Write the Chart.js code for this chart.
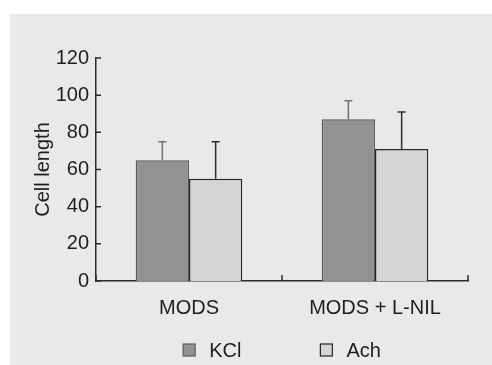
<!DOCTYPE html>
<html>
<head>
<meta charset="utf-8">
<script src="https://cdn.jsdelivr.net/npm/chart.js@4.4.0/dist/chart.umd.min.js"></script>
<style>
  html, body { margin: 0; padding: 0; background: #fff; }
  #panel { position: absolute; left: 10px; top: 14px; width: 482px; height: 351px; background: #e8e9eb; }
  canvas { display: block; }
</style>
</head>
<body>
<div id="panel"><canvas id="chart" width="482" height="351"></canvas></div>
<script>
// data
const categories = ['MODS', 'MODS + L-NIL'];
const kclValues = [65, 87];
const kclErrors = [10, 10];
const achValues = [55, 71];
const achErrors = [20, 20];
const yTicks = [0, 20, 40, 60, 80, 100, 120];

const axisColor = '#2b2b2b';
const textColor = '#1e1e1e';
const fontFamily = '"Liberation Sans", Arial, Helvetica, sans-serif';
const fontSize = 20;

// error bars (upper half only, with a small cap)
const errorBars = {
    id: 'errorBars',
    afterDatasetsDraw(chart) {
        const { ctx, scales: { y } } = chart;
        chart.data.datasets.forEach((ds, i) => {
            const meta = chart.getDatasetMeta(i);
            ctx.save();
            ctx.strokeStyle = ds.errorColor;
            ctx.lineWidth = 1.5;
            meta.data.forEach((bar, j) => {
                const top = y.getPixelForValue(ds.data[j] + ds.errors[j]);
                ctx.beginPath();
                ctx.moveTo(bar.x, bar.y);
                ctx.lineTo(bar.x, top);
                ctx.moveTo(bar.x - 4, top);
                ctx.lineTo(bar.x + 4, top);
                ctx.stroke();
            });
            ctx.restore();
        });
    }
};

// tick marks pointing into the plot
const innerTicks = {
    id: 'innerTicks',
    afterDatasetsDraw(chart) {
        const { ctx, chartArea, scales: { x, y } } = chart;
        ctx.save();
        ctx.strokeStyle = axisColor;
        ctx.lineWidth = 1.5;
        ctx.beginPath();
        yTicks.forEach(v => {
            const py = y.getPixelForValue(v);
            ctx.moveTo(chartArea.left, py);
            ctx.lineTo(chartArea.left + 5, py);
        });
        for (let i = 0; i <= categories.length; i++) {
            const px = x.getPixelForValue(i - 0.5);
            ctx.moveTo(px, chartArea.bottom);
            ctx.lineTo(px, chartArea.bottom - 6);
        }
        ctx.stroke();
        ctx.restore();
    }
};

// legend under the axis, centred on the plot
const boxLegend = {
    id: 'boxLegend',
    afterDraw(chart) {
        const { ctx, chartArea } = chart;
        const box = 12, gap = 14, spacing = 79;
        const yMid = chartArea.bottom + 69;
        ctx.save();
        ctx.font = fontSize + 'px ' + fontFamily;
        ctx.textBaseline = 'middle';
        const items = chart.data.datasets.map(ds => ({ ds, w: box + gap + ctx.measureText(ds.label).width }));
        const total = items.reduce((s, it) => s + it.w, 0) + spacing * (items.length - 1);
        let x = (chartArea.left + chartArea.right) / 2 - total / 2;
        items.forEach(({ ds, w }) => {
            ctx.fillStyle = ds.backgroundColor;
            ctx.fillRect(x, yMid - box / 2, box, box);
            ctx.strokeStyle = ds.borderColor;
            ctx.lineWidth = 1.2;
            ctx.strokeRect(x, yMid - box / 2, box, box);
            ctx.fillStyle = textColor;
            ctx.fillText(ds.label, x + box + gap, yMid + 1);
            x += w + spacing;
        });
        ctx.restore();
    }
};

Chart.defaults.font.family = fontFamily;
Chart.defaults.font.size = fontSize;
Chart.defaults.color = textColor;

new Chart(document.getElementById('chart'), {
    type: 'bar',
    data: {
        labels: categories,
        datasets: [{
            label: 'KCl',
            data: kclValues,
            errors: kclErrors,
            errorColor: '#707070',
            backgroundColor: '#929292',
            borderColor: '#5a5a5a',
            borderWidth: 1.5
        }, {
            label: 'Ach',
            data: achValues,
            errors: achErrors,
            errorColor: '#2e2e2e',
            backgroundColor: '#d4d5d7',
            borderColor: '#262626',
            borderWidth: 1.5
        }]
    },
    options: {
        responsive: false,
        devicePixelRatio: 1,
        animation: false,
        layout: {
            padding: { left: 21, top: 44, right: 24, bottom: 0 }
        },
        datasets: {
            bar: { categoryPercentage: 0.573, barPercentage: 1 }
        },
        plugins: {
            legend: { display: false },
            tooltip: { enabled: false }
        },
        scales: {
            x: {
                grid: { display: false, drawTicks: false },
                border: { display: true, color: axisColor, width: 1.5 },
                ticks: { padding: 15, color: textColor },
                afterFit: scale => { scale.height = 84; }
            },
            y: {
                min: 0,
                max: 120,
                grid: { display: false, drawTicks: false },
                border: { display: true, color: axisColor, width: 1.5 },
                ticks: { padding: 7, color: textColor },
                afterBuildTicks: scale => { scale.ticks = yTicks.map(v => ({ value: v })); },
                title: { display: true, text: 'Cell length', color: textColor, padding: 0 },
                afterFit: scale => { scale.width = 65; }
            }
        }
    },
    plugins: [errorBars, innerTicks, boxLegend]
});
</script>
</body>
</html>
